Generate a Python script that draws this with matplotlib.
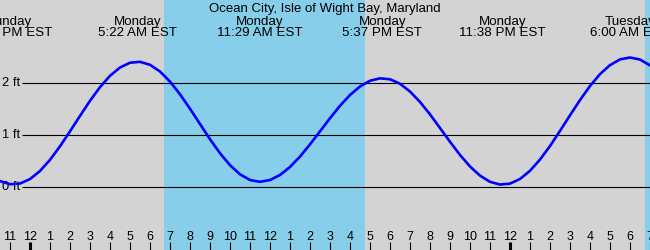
import matplotlib.pyplot as plt
import matplotlib.transforms as mtransforms
import numpy as np

plt.rcParams['font.family'] = ['Liberation Sans', 'DejaVu Sans']

TITLE = "Ocean City, Isle of Wight Bay, Maryland"

## Data ##

# hours after Monday 00:00 EST, read every half hour off the curve
hours = np.arange(-1.5, 31.01, 0.5)
height_ft = [
    0.115, 0.054, 0.067,
    0.153, 0.309, 0.525, 0.786, 1.074, 1.373, 1.664, 1.928, 2.147, 2.307,
    2.399, 2.417, 2.359, 2.230, 2.035, 1.790, 1.511, 1.216, 0.923, 0.652,
    0.421, 0.245, 0.135, 0.100, 0.135, 0.232, 0.387, 0.588, 0.823, 1.074,
    1.328, 1.568, 1.776, 1.941, 2.051, 2.098, 2.080, 1.993, 1.843, 1.642,
    1.402, 1.139, 0.873, 0.619, 0.396, 0.220, 0.100, 0.047, 0.065, 0.155,
    0.313, 0.530, 0.791, 1.083, 1.384, 1.678, 1.950, 2.179, 2.353, 2.463,
    2.500, 2.461, 2.347,
]

# high / low tide events
event_hours = [-1.05, 5.367, 11.483, 17.617, 23.633, 30.0]
event_days = ["Sunday", "Monday", "Monday", "Monday", "Monday", "Tuesday"]
event_times = ["10:57 PM EST", "5:22 AM EST", "11:29 AM EST",
               "5:37 PM EST", "11:38 PM EST", "6:00 AM EST"]

# daylight (sunrise, sunset) in hours after Monday 00:00
daylight = [(6.7, 16.75), (30.75, 41.0)]

levels = [0, 1, 2]
level_labels = ["0 ft", "1 ft", "2 ft"]

hour_ticks = list(range(-1, 32))

## Plot ##

fig = plt.figure(figsize=(6.5, 2.5), dpi=100)
fig.patch.set_facecolor('#d3d3d3')
ax = fig.add_axes([0, 0, 1, 1])
ax.set_facecolor('#d3d3d3')
ax.set_xlim(-1.5, 31)
ax.set_ylim(-1.216, 3.61)
ax.axis('off')

for rise, sset in daylight:
    ax.axvspan(rise, sset, color='#87ceeb', lw=0, zorder=0)

ax.hlines(levels, -0.4, 31, color='black', lw=0.8, zorder=1)
for lv, lab in zip(levels, level_labels):
    ax.text(-0.5, lv, lab, ha='right', va='center', fontsize=9.3)

ax.plot(hours, height_ft, color='#0000ff', lw=1.9, zorder=3,
        solid_capstyle='round')

trans = mtransforms.blended_transform_factory(ax.transData, ax.transAxes)
for h in hour_ticks:
    hod = h % 24
    lab = str(12 if hod % 12 == 0 else hod % 12)
    midnight = hod == 0
    ax.vlines(h, 0, 0.032, transform=trans, color='black',
              lw=2.2 if midnight else 0.8)
    ax.text(h, 0.04, lab, transform=trans, ha='center', va='baseline',
            fontsize=9)

for h, day, t in zip(event_hours, event_days, event_times):
    ax.text(h, 0.90, day, transform=trans, ha='center', va='baseline',
            fontsize=9.6)
    ax.text(h, 0.856, t, transform=trans, ha='center', va='baseline',
            fontsize=9.6)

fig.text(0.5, 0.952, TITLE, ha='center', va='baseline', fontsize=9.5)

fig.savefig('out.png', dpi=100)
